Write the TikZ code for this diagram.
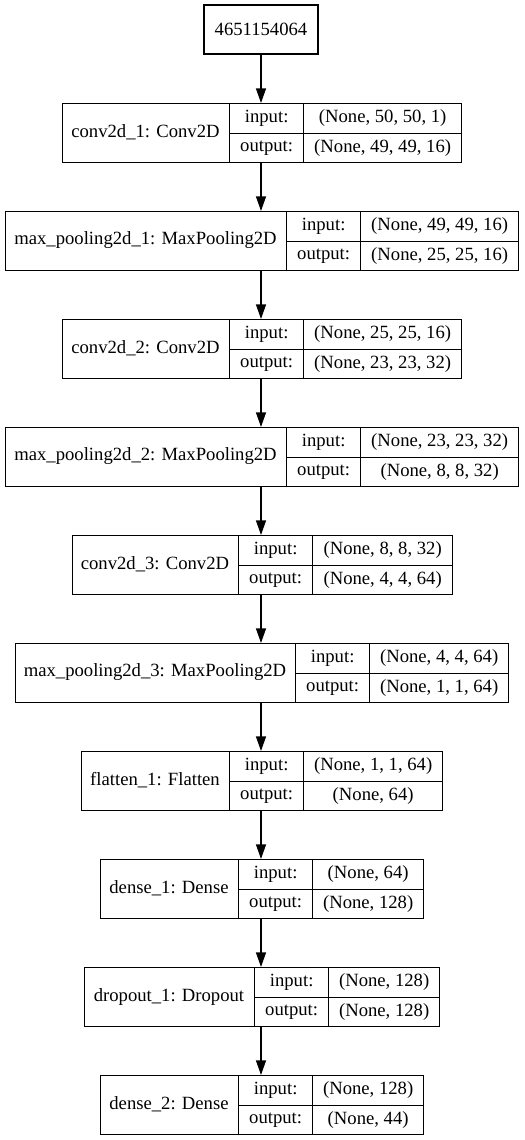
\documentclass[tikz,border=0pt]{standalone}
\usepackage{fontspec}
\setmainfont{Liberation Serif}
\usepackage{tikz}
\usetikzlibrary{arrows.meta}
% one keras layer: id, top, x-left, x-split1, x-split2, x-right, name, input, output
\newcommand{\kerasrow}[9]{%
  \node[cell,anchor=north west,minimum width={(#6-#3)*0.75pt},minimum height={59*0.75pt}] (#1) at (#3,#2) {};
  \node (#1n) at ({(#3+#4)/2},#2+29.5) {#7};
  \node[cell,anchor=north west,minimum width={(#5-#4)*0.75pt},minimum height={29.5*0.75pt}] (#1i) at (#4,#2) {input:};
  \node[cell,anchor=north west,minimum width={(#5-#4)*0.75pt},minimum height={29.5*0.75pt}] (#1o) at (#4,#2+29.5) {output:};
  \node[cell,anchor=north west,minimum width={(#6-#5)*0.75pt},minimum height={29.5*0.75pt}] (#1iv) at (#5,#2) {#8};
  \node[cell,anchor=north west,minimum width={(#6-#5)*0.75pt},minimum height={29.5*0.75pt}] (#1ov) at (#5,#2+29.5) {#9};
}

\begin{document}
\begin{tikzpicture}[
  font=\fontsize{14pt}{16pt}\selectfont,
  cell/.style={rectangle,draw=black,line width=1pt,inner sep=1pt},
  arr/.style={-{Triangle[length=11pt,width=7.5pt]},line width=1pt},
  x=0.75pt,y=-0.75pt]
\useasboundingbox (0,0) rectangle (525,1140);

% ================= input =================
\node[cell,minimum width={114*0.75pt},minimum height={49*0.75pt}] (top) at (261,29.5) {4651154064};

% ================= layers =================
\kerasrow{c1}{103}{62}{229}{303}{461}{conv2d\_1: Conv2D}{(None, 50, 50, 1)}{(None, 49, 49, 16)}
\kerasrow{p1}{211}{5}{286}{360}{518}{max\_pooling2d\_1: MaxPooling2D}{(None, 49, 49, 16)}{(None, 25, 25, 16)}
\kerasrow{c2}{319}{62}{229}{303}{461}{conv2d\_2: Conv2D}{(None, 25, 25, 16)}{(None, 23, 23, 32)}
\kerasrow{p2}{427}{5}{286}{360}{518}{max\_pooling2d\_2: MaxPooling2D}{(None, 23, 23, 32)}{(None, 8, 8, 32)}
\kerasrow{c3}{535}{72}{238}{312}{452}{conv2d\_3: Conv2D}{(None, 8, 8, 32)}{(None, 4, 4, 64)}
\kerasrow{p3}{643}{15}{295}{369}{508}{max\_pooling2d\_3: MaxPooling2D}{(None, 4, 4, 64)}{(None, 1, 1, 64)}
\kerasrow{f1}{751}{81}{229}{303}{442}{flatten\_1: Flatten}{(None, 1, 1, 64)}{(None, 64)}
\kerasrow{d1}{859}{100}{238}{312}{423}{dense\_1: Dense}{(None, 64)}{(None, 128)}
\kerasrow{r1}{967}{84}{254}{328}{439}{dropout\_1: Dropout}{(None, 128)}{(None, 128)}
\kerasrow{d2}{1075}{100}{238}{312}{423}{dense\_2: Dense}{(None, 128)}{(None, 44)}

% ================= flow =================
\draw[arr] (top.south) -- (c1.north -| top.south);
\draw[arr] (c1.south -| top.south) -- (p1.north -| top.south);
\draw[arr] (p1.south -| top.south) -- (c2.north -| top.south);
\draw[arr] (c2.south -| top.south) -- (p2.north -| top.south);
\draw[arr] (p2.south -| top.south) -- (c3.north -| top.south);
\draw[arr] (c3.south -| top.south) -- (p3.north -| top.south);
\draw[arr] (p3.south -| top.south) -- (f1.north -| top.south);
\draw[arr] (f1.south -| top.south) -- (d1.north -| top.south);
\draw[arr] (d1.south -| top.south) -- (r1.north -| top.south);
\draw[arr] (r1.south -| top.south) -- (d2.north -| top.south);
\end{tikzpicture}
\end{document}
